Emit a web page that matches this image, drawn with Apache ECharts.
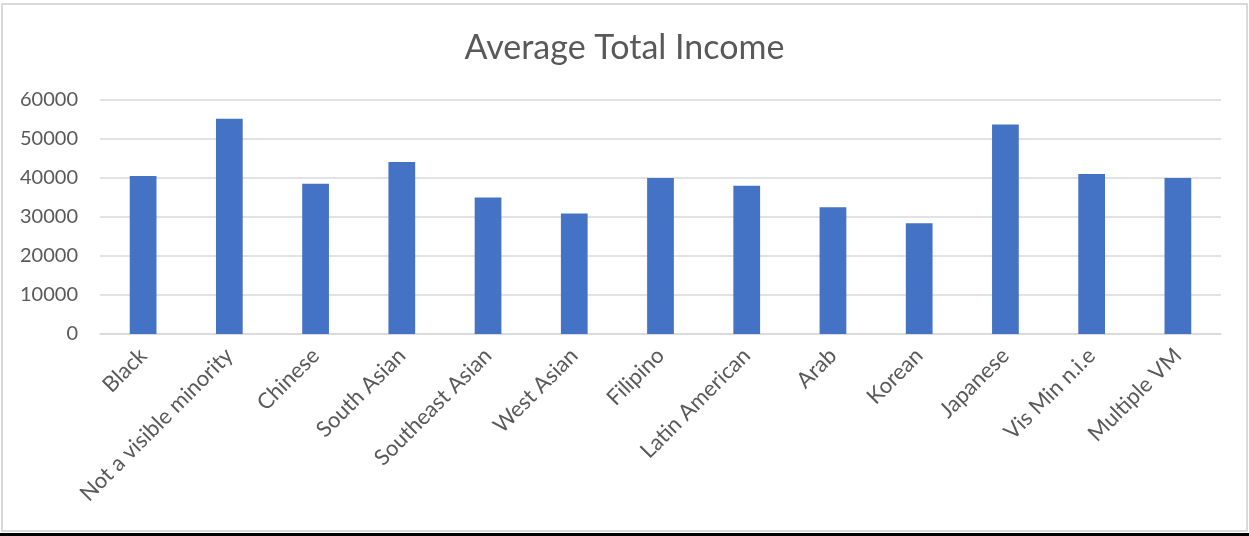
<!DOCTYPE html>
<html>
<head>
<meta charset="utf-8">
<script src="https://cdn.jsdelivr.net/npm/echarts@6/dist/echarts.min.js"></script>
<style>
  html, body { margin: 0; padding: 0; background: #fff; }
  #frame { position: absolute; left: 1px; top: 3px; width: 1247px; height: 529px;
           border: 2px solid #d9d9d9; box-sizing: border-box; }
  #band { position: absolute; left: 0; top: 533px; width: 1249px; height: 3px; background: #000; }
  #main { position: absolute; left: 0; top: 0; width: 1249px; height: 536px; }
</style>
</head>
<body>
<div id="frame"></div>
<div id="band"></div>
<div id="main"></div>
<script>
// categories and values
var groups = ['Black', 'Not a visible minority', 'Chinese', 'South Asian', 'Southeast Asian',
              'West Asian', 'Filipino', 'Latin American', 'Arab', 'Korean', 'Japanese',
              'Vis Min n.i.e', 'Multiple VM'];
var avgIncome = [40500, 55200, 38500, 44100, 35000, 30900, 40000, 38000, 32500, 28400, 53700, 41000, 40000];

var option = {
    animation: false,
    title: {
        text: 'Average Total Income',
        left: 'center',
        top: 26,
        textStyle: { fontFamily: 'Lato', fontSize: 34, fontWeight: 'normal', color: '#595959' }
    },
    grid: {
        left: 100,
        right: 28,
        top: 100,
        bottom: 202
    },
    xAxis: {
        type: 'category',
        data: groups,
        axisTick: { show: false },
        axisLine: { lineStyle: { color: '#d9d9d9', width: 1.5 } },
        axisLabel: {
            interval: 0,
            rotate: 45,
            margin: 18,
            fontFamily: 'Lato',
            fontSize: 22,
            color: '#595959'
        }
    },
    yAxis: {
        type: 'value',
        min: 0,
        max: 60000,
        interval: 10000,
        axisLabel: {
            margin: 22, fontFamily: 'Lato', fontSize: 20, color: '#595959',
            formatter: function (v) { return String(v); }
        },
        splitLine: { lineStyle: { color: '#d9d9d9', width: 1.5 } }
    },
    series: [
        {
            name: 'Average Total Income',
            type: 'bar',
            barWidth: '31%',
            itemStyle: { color: '#4472C4' },
            data: avgIncome
        }
    ]
};

var chart = echarts.init(document.getElementById('main'));
chart.setOption(option);
</script>
</body>
</html>
